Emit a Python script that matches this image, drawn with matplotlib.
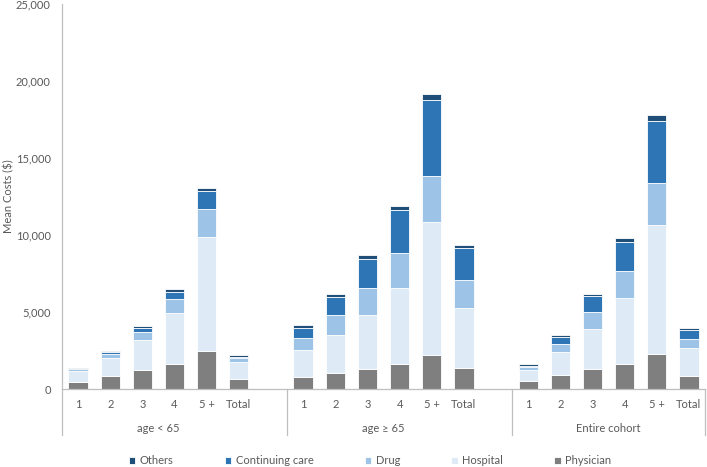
import matplotlib
matplotlib.use("Agg")
import matplotlib.pyplot as plt
import numpy as np

plt.rcParams['font.family'] = ['Lato', 'DejaVu Sans']

groups = ["age < 65", "age \u2265 65", "Entire cohort"]
categories = ["1", "2", "3", "4", "5 +", "Total"]
series = ["Others", "Continuing care", "Drug", "Hospital", "Physician"]

physician = [480, 830, 1230, 1650, 2470, 680,
             780, 1060, 1320, 1650, 2210, 1340,
             500, 890, 1280, 1650, 2270, 870]
hospital = [690, 1170, 1950, 3290, 7420, 1100,
            1750, 2450, 3490, 4890, 8650, 3940,
            740, 1510, 2640, 4280, 8360, 1820]
drug = [110, 260, 500, 900, 1800, 210,
        800, 1300, 1780, 2290, 2990, 1780,
        160, 520, 1060, 1730, 2750, 540]
continuing = [40, 130, 260, 430, 1150, 110,
              650, 1190, 1880, 2770, 4900, 2100,
              100, 460, 1040, 1860, 4050, 630]
others = [30, 100, 150, 200, 240, 90,
          170, 170, 220, 300, 400, 210,
          100, 110, 170, 260, 370, 110]

colors = {"Others": "#1F4E79", "Continuing care": "#2E75B6", "Drug": "#9DC3E6",
          "Hospital": "#DEEBF7", "Physician": "#7F7F7F"}

fig = plt.figure(figsize=(7.07, 4.67), dpi=100)
ax = fig.add_axes([62/707, 1-389/467, 643/707, 385/467])

# positions: 7 slots per group (6 categories + blank), last group without blank
pos = []
for g in range(3):
    for c in range(6):
        pos.append(g*7 + c)
pos = np.array(pos)

stack = [("Physician", physician), ("Hospital", hospital), ("Drug", drug),
         ("Continuing care", continuing), ("Others", others)]
bottom = np.zeros(len(pos))
handles = {}
for name, vals in stack:
    v = np.array(vals, dtype=float)
    b = ax.bar(pos, v, width=0.6, bottom=bottom, color=colors[name],
               edgecolor='white', linewidth=0.6, label=name)
    handles[name] = b
    bottom += v

fs = 8
axcol = '#BFBFBF'
txtcol = '#595959'
ax.set_xlim(-0.5, 19.5)
ax.set_ylim(0, 25000)
ax.set_yticks(np.arange(0, 25001, 5000))
ax.yaxis.set_major_formatter(matplotlib.ticker.FuncFormatter(lambda v, p: f"{int(v):,}"))
ax.tick_params(axis='y', length=0, pad=8, labelsize=fs, labelcolor=txtcol)
ax.set_xticks(pos)
ax.set_xticklabels(categories*3)
ax.tick_params(axis='x', length=0, pad=7, labelsize=fs, labelcolor=txtcol)
for s in ['top', 'right']:
    ax.spines[s].set_visible(False)
for s in ['left', 'bottom']:
    ax.spines[s].set_color(axcol)
    ax.spines[s].set_linewidth(0.9)
ax.set_ylabel("Mean Costs ($)", fontsize=fs, color=txtcol)
ax.yaxis.set_label_coords((14-62)/643, 0.5)

trans = ax.get_xaxis_transform()
drop = -(435-389)/385
for xv in [-0.5, 6.5, 13.5, 19.5]:
    ax.plot([xv, xv], [0, drop], transform=trans, color=axcol, lw=0.9, clip_on=False)
for g, name in enumerate(groups):
    ax.text(g*7 + 2.5, -(429-389)/385, name, transform=trans, ha='center', va='center',
            fontsize=fs, color=txtcol)

leg = fig.legend([handles[n] for n in series], series, loc='center', ncol=5,
                 bbox_to_anchor=(370/707, 1-461/467), frameon=False, fontsize=fs,
                 handlelength=0.6, handleheight=0.6, handletextpad=0.4, columnspacing=4.6,
                 labelcolor=txtcol)

fig.savefig("out.png", dpi=100)
